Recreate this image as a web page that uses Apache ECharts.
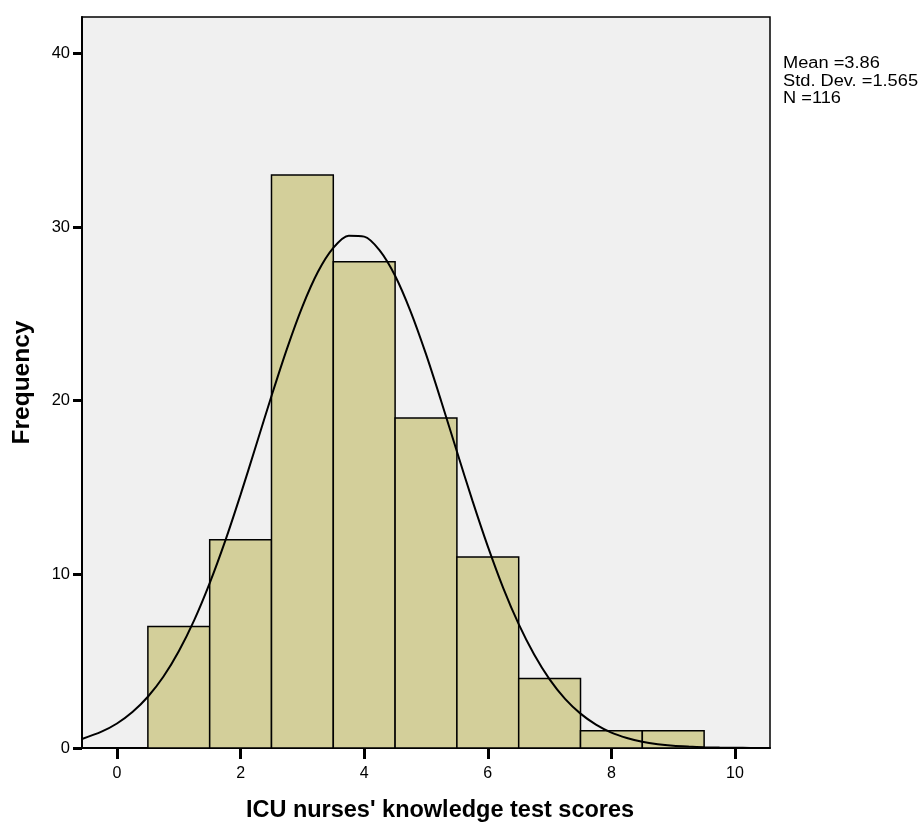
<!DOCTYPE html>
<html><head><meta charset="utf-8">
<script src="https://cdn.jsdelivr.net/npm/echarts@6/dist/echarts.min.js"></script>
<style>html,body{margin:0;padding:0;background:#fff}#c{width:922px;height:824px}</style>
</head><body><div id="c"></div>
<script>
var binCenters = [1, 2, 3, 4, 5, 6, 7, 8, 9];
var frequencies = [7, 12, 33, 28, 19, 11, 4, 1, 1];
var curveX = [-0.566, -0.25, 0, 0.25, 0.5, 0.75, 1, 1.25, 1.5, 1.75, 2, 2.25, 2.5, 2.75, 3, 3.25, 3.5, 3.75, 4, 4.25, 4.5, 4.75, 5, 5.25, 5.5, 5.75, 6, 6.25, 6.5, 6.75, 7, 7.25, 7.5, 7.75, 8, 8.25, 8.5, 8.75, 9, 9.25, 9.5, 9.75, 10, 10.25, 10.566];
var curveY = [0.52, 0.94, 1.41, 2.07, 2.95, 4.10, 5.57, 7.36, 9.49, 11.91, 14.59, 17.42, 20.27, 22.99, 25.42, 27.41, 28.80, 29.50, 29.45, 28.66, 27.20, 25.15, 22.68, 19.93, 17.08, 14.26, 11.61, 9.21, 7.13, 5.38, 3.95, 2.83, 1.98, 1.35, 0.89, 0.58, 0.36, 0.22, 0.13, 0.08, 0.045, 0.025, 0.013, 0.007, 0.003];
var xTicks = [0, 2, 4, 6, 8, 10];
var yTicks = [0, 10, 20, 30, 40];
var statsLines = ['Mean =3.86', 'Std. Dev. =1.565', 'N =116'];

var chart = echarts.init(document.getElementById('c'));
var font = '"Liberation Sans", Arial, sans-serif';
chart.setOption({
  animation: false,
  grid: {left: 82, top: 17, width: 688, height: 731, outerBoundsMode: 'none', containLabel: false,
    show: true, backgroundColor: '#F0F0F0', borderColor: '#000', borderWidth: 1.5},
  xAxis: {
    type: 'value', min: -0.566, max: 10.566,
    name: "ICU nurses' knowledge test scores", nameLocation: 'middle', nameGap: 51,
    nameTextStyle: {fontFamily: font, fontSize: 23.5, fontWeight: 'bold', color: '#000', padding: [0, 0, 0, 28]},
    axisLine: {show: true, onZero: false, lineStyle: {color: '#000', width: 2}},
    axisTick: {show: true, length: 11, lineStyle: {color: '#000', width: 3}, customValues: xTicks},
    axisLabel: {fontFamily: font, fontSize: 16, color: '#000', margin: 18, customValues: xTicks},
    splitLine: {show: false}
  },
  yAxis: {
    type: 'value', min: 0, max: 42.1,
    name: 'Frequency', nameLocation: 'middle', nameGap: 47, nameRotate: 90,
    nameTextStyle: {fontFamily: font, fontSize: 24.5, fontWeight: 'bold', color: '#000'},
    axisLine: {show: true, onZero: false, lineStyle: {color: '#000', width: 2}},
    axisTick: {show: true, length: 9, lineStyle: {color: '#000', width: 3}, customValues: yTicks},
    axisLabel: {fontFamily: font, fontSize: 16.5, color: '#000', margin: 12, customValues: yTicks},
    splitLine: {show: false}
  },
  series: [
    {
      type: 'custom',
      data: binCenters.map(function (c, i) { return [c, frequencies[i]]; }),
      renderItem: function (params, api) {
        var c = api.value(0), v = api.value(1);
        var p1 = api.coord([c - 0.5, v]);
        var p2 = api.coord([c + 0.5, 0]);
        return {type: 'rect', shape: {x: p1[0], y: p1[1], width: p2[0] - p1[0], height: p2[1] - p1[1]},
          style: {fill: '#D3CF9A', stroke: '#000', lineWidth: 1.5}};
      },
      z: 2
    },
    {
      type: 'line', data: curveX.map(function (x, i) { return [x, curveY[i]]; }),
      smooth: 0.3, showSymbol: false, symbol: 'none',
      lineStyle: {color: '#000', width: 2}, z: 3
    }
  ],
  graphic: [{
    type: 'text', left: 783, top: 55, scaleX: 1.14,
    style: {text: statsLines.join('\n'), fontFamily: font, fontSize: 16, lineHeight: 17.5, fill: '#000'}
  }]
});
</script></body></html>
